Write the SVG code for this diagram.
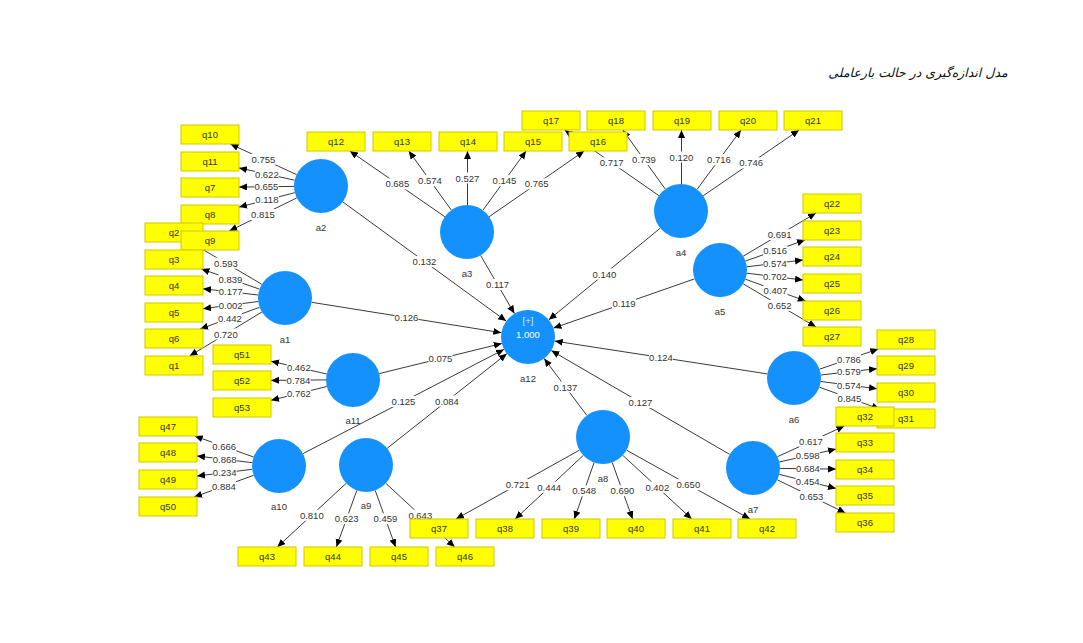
<svg xmlns="http://www.w3.org/2000/svg" width="1083" height="643" viewBox="0 0 1083 643">
<style>
.e{stroke:#3a3a3a;stroke-width:1;fill:none;marker-end:url(#ah)}
.lb{fill:#fff}
.lt{font-family:"Liberation Sans",Arial,sans-serif;font-size:9.5px;fill:#333;text-anchor:middle}
.lv{fill:#1591fd}
.nl{font-family:"Liberation Sans",Arial,sans-serif;font-size:9.5px;fill:#333;text-anchor:middle}
.bx{fill:#ffff00;stroke:#cfc800;stroke-width:1}
.bt{font-family:"Liberation Sans",Arial,sans-serif;font-size:9.5px;fill:#333;text-anchor:middle}
</style>
<defs>
<marker id="ah" markerUnits="userSpaceOnUse" markerWidth="9" markerHeight="8" refX="8" refY="3.5" orient="auto">
<path d="M0,0 L8,3.5 L0,7 z" fill="#000"/>
</marker>
</defs>
<rect width="1083" height="643" fill="#fff"/>
<text x="918" y="77" font-family="DejaVu Sans, sans-serif" font-size="12.5" font-style="italic" fill="#111" text-anchor="middle">مدل اندازه‌گیری در حالت بارعاملی</text>

<g id="connectors">
<!-- a2 -->
<line class="e" x1="296.5" y1="174.6" x2="230.4" y2="144"/>
<line class="e" x1="294.6" y1="180.2" x2="239" y2="167.9"/>
<line class="e" x1="294" y1="186.4" x2="239" y2="187.1"/>
<line class="e" x1="294.8" y1="192.7" x2="239" y2="207.1"/>
<line class="e" x1="296.8" y1="197.9" x2="229.3" y2="231"/>
<!-- a1 -->
<line class="e" x1="261.8" y1="284.3" x2="190.1" y2="242"/>
<line class="e" x1="259.5" y1="289.1" x2="201.4" y2="269"/>
<line class="e" x1="258.2" y1="295" x2="203" y2="288.8"/>
<line class="e" x1="258.2" y1="301.5" x2="203" y2="308.7"/>
<line class="e" x1="259.6" y1="307.3" x2="200.1" y2="329"/>
<line class="e" x1="261.9" y1="312" x2="189.6" y2="356"/>
<!-- a11 -->
<line class="e" x1="326.7" y1="374" x2="271" y2="361.2"/>
<line class="e" x1="326" y1="379.9" x2="271" y2="380.4"/>
<line class="e" x1="326.8" y1="386.5" x2="271" y2="400.3"/>
<!-- a3 -->
<line class="e" x1="444.8" y1="216.7" x2="349.8" y2="151"/>
<line class="e" x1="451.3" y1="210.1" x2="408.8" y2="151"/>
<line class="e" x1="467.5" y1="205" x2="467.5" y2="151"/>
<line class="e" x1="482.9" y1="210.2" x2="526.1" y2="151"/>
<line class="e" x1="489.2" y1="216.7" x2="584.2" y2="151"/>
<!-- a4 -->
<line class="e" x1="658.8" y1="195.6" x2="564.6" y2="130"/>
<line class="e" x1="665.3" y1="189.1" x2="622.8" y2="130"/>
<line class="e" x1="681.5" y1="184" x2="681.5" y2="130"/>
<line class="e" x1="697.1" y1="189.3" x2="741" y2="130"/>
<line class="e" x1="703.3" y1="195.7" x2="799.1" y2="130"/>
<!-- a5 -->
<line class="e" x1="743.2" y1="256.2" x2="816" y2="213"/>
<line class="e" x1="745.5" y1="261" x2="805" y2="240"/>
<line class="e" x1="746.8" y1="266.8" x2="803" y2="260"/>
<line class="e" x1="746.8" y1="273.2" x2="803" y2="280"/>
<line class="e" x1="745.4" y1="279.2" x2="805.7" y2="301"/>
<line class="e" x1="743.2" y1="283.8" x2="816" y2="327"/>
<!-- a6 -->
<line class="e" x1="819.5" y1="369.2" x2="878.3" y2="349"/>
<line class="e" x1="820.8" y1="375" x2="877" y2="368.7"/>
<line class="e" x1="820.8" y1="381.5" x2="877" y2="388.7"/>
<line class="e" x1="819.4" y1="387.2" x2="879.7" y2="409"/>
<!-- a7 -->
<line class="e" x1="777.5" y1="456.7" x2="844.4" y2="426"/>
<line class="e" x1="779.3" y1="462" x2="836" y2="449.1"/>
<line class="e" x1="780" y1="468.4" x2="836" y2="469.1"/>
<line class="e" x1="779.2" y1="474.4" x2="836" y2="488.4"/>
<line class="e" x1="777.3" y1="479.8" x2="845.5" y2="513"/>
<!-- a8 -->
<line class="e" x1="579.4" y1="450.2" x2="456" y2="519"/>
<line class="e" x1="583.3" y1="455.4" x2="515.2" y2="519"/>
<line class="e" x1="594.1" y1="462.5" x2="574.3" y2="519"/>
<line class="e" x1="612.2" y1="462.4" x2="632.6" y2="519"/>
<line class="e" x1="622.8" y1="455.3" x2="691.7" y2="519"/>
<line class="e" x1="626.6" y1="450.2" x2="750" y2="519"/>
<!-- a9 -->
<line class="e" x1="346.2" y1="483.3" x2="277.3" y2="547"/>
<line class="e" x1="356.8" y1="490.4" x2="336.4" y2="547"/>
<line class="e" x1="375.2" y1="490.4" x2="395.6" y2="547"/>
<line class="e" x1="385.8" y1="483.3" x2="454.7" y2="547"/>
<!-- a10 -->
<line class="e" x1="253.6" y1="457" x2="194.7" y2="436"/>
<line class="e" x1="252.2" y1="462.7" x2="197" y2="456"/>
<line class="e" x1="252.2" y1="469.3" x2="197" y2="476"/>
<line class="e" x1="253.6" y1="475.3" x2="194.1" y2="497"/>
<!-- structural -->
<line class="e" x1="342.8" y1="201.9" x2="506.2" y2="321.1"/>
<line class="e" x1="480.6" y1="255.4" x2="514.4" y2="313.6"/>
<line class="e" x1="311.7" y1="302.3" x2="501.3" y2="332.7"/>
<line class="e" x1="379.2" y1="373.6" x2="501.8" y2="343.5"/>
<line class="e" x1="303" y1="453.6" x2="504" y2="349.4"/>
<line class="e" x1="387.2" y1="448.3" x2="506.8" y2="353.7"/>
<line class="e" x1="586.8" y1="415.4" x2="544.2" y2="358.6"/>
<line class="e" x1="729.7" y1="454.4" x2="551.3" y2="350.6"/>
<line class="e" x1="767.3" y1="373.9" x2="554.7" y2="341.1"/>
<line class="e" x1="694.5" y1="278.9" x2="553.5" y2="328.1"/>
<line class="e" x1="660.2" y1="228.2" x2="548.8" y2="319.8"/>

<g id="labels">
<rect class="lb" x="251.5" y="153.8" width="24" height="11"/><text class="lt" x="263.5" y="162.8">0.755</text>
<rect class="lb" x="254.8" y="168.5" width="24" height="11"/><text class="lt" x="266.8" y="177.5">0.622</text>
<rect class="lb" x="254.5" y="181.2" width="24" height="11"/><text class="lt" x="266.5" y="190.2">0.655</text>
<rect class="lb" x="254.9" y="194.4" width="24" height="11"/><text class="lt" x="266.9" y="203.4">0.118</text>
<rect class="lb" x="251" y="209" width="24" height="11"/><text class="lt" x="263" y="218">0.815</text>

<rect class="lb" x="214" y="257.7" width="24" height="11"/><text class="lt" x="226" y="266.7">0.593</text>
<rect class="lb" x="218.4" y="273.5" width="24" height="11"/><text class="lt" x="230.4" y="282.5">0.839</text>
<rect class="lb" x="218.6" y="286.4" width="24" height="11"/><text class="lt" x="230.6" y="295.4">0.177</text>
<rect class="lb" x="218.6" y="299.6" width="24" height="11"/><text class="lt" x="230.6" y="308.6">0.002</text>
<rect class="lb" x="217.9" y="312.6" width="24" height="11"/><text class="lt" x="229.9" y="321.6">0.442</text>
<rect class="lb" x="213.8" y="328.5" width="24" height="11"/><text class="lt" x="225.8" y="337.5">0.720</text>

<rect class="lb" x="286.8" y="362.1" width="24" height="11"/><text class="lt" x="298.8" y="371.1">0.462</text>
<rect class="lb" x="286.5" y="374.6" width="24" height="11"/><text class="lt" x="298.5" y="383.6">0.784</text>
<rect class="lb" x="286.9" y="387.9" width="24" height="11"/><text class="lt" x="298.9" y="396.9">0.762</text>

<rect class="lb" x="385.3" y="178.4" width="24" height="11"/><text class="lt" x="397.3" y="187.4">0.685</text>
<rect class="lb" x="418" y="175.1" width="24" height="11"/><text class="lt" x="430" y="184.1">0.574</text>
<rect class="lb" x="455.5" y="172.5" width="24" height="11"/><text class="lt" x="467.5" y="181.5">0.527</text>
<rect class="lb" x="492.5" y="175.1" width="24" height="11"/><text class="lt" x="504.5" y="184.1">0.145</text>
<rect class="lb" x="524.7" y="178.4" width="24" height="11"/><text class="lt" x="536.7" y="187.4">0.765</text>

<rect class="lb" x="599.7" y="157.3" width="24" height="11"/><text class="lt" x="611.7" y="166.3">0.717</text>
<rect class="lb" x="632" y="154.1" width="24" height="11"/><text class="lt" x="644" y="163.1">0.739</text>
<rect class="lb" x="669.5" y="151.5" width="24" height="11"/><text class="lt" x="681.5" y="160.5">0.120</text>
<rect class="lb" x="707" y="154.2" width="24" height="11"/><text class="lt" x="719" y="163.2">0.716</text>
<rect class="lb" x="739.2" y="157.4" width="24" height="11"/><text class="lt" x="751.2" y="166.4">0.746</text>

<rect class="lb" x="767.6" y="229.1" width="24" height="11"/><text class="lt" x="779.6" y="238.1">0.691</text>
<rect class="lb" x="763.2" y="245" width="24" height="11"/><text class="lt" x="775.2" y="254">0.516</text>
<rect class="lb" x="762.9" y="257.9" width="24" height="11"/><text class="lt" x="774.9" y="266.9">0.574</text>
<rect class="lb" x="762.9" y="271.1" width="24" height="11"/><text class="lt" x="774.9" y="280.1">0.702</text>
<rect class="lb" x="763.5" y="284.6" width="24" height="11"/><text class="lt" x="775.5" y="293.6">0.407</text>
<rect class="lb" x="767.6" y="299.9" width="24" height="11"/><text class="lt" x="779.6" y="308.9">0.652</text>

<rect class="lb" x="836.9" y="353.6" width="24" height="11"/><text class="lt" x="848.9" y="362.6">0.786</text>
<rect class="lb" x="836.9" y="366.4" width="24" height="11"/><text class="lt" x="848.9" y="375.4">0.579</text>
<rect class="lb" x="836.9" y="379.6" width="24" height="11"/><text class="lt" x="848.9" y="388.6">0.574</text>
<rect class="lb" x="837.5" y="392.6" width="24" height="11"/><text class="lt" x="849.5" y="401.6">0.845</text>

<rect class="lb" x="799" y="435.9" width="24" height="11"/><text class="lt" x="811" y="444.9">0.617</text>
<rect class="lb" x="795.7" y="450.1" width="24" height="11"/><text class="lt" x="807.7" y="459.1">0.598</text>
<rect class="lb" x="796" y="463.2" width="24" height="11"/><text class="lt" x="808" y="472.2">0.684</text>
<rect class="lb" x="795.6" y="475.9" width="24" height="11"/><text class="lt" x="807.6" y="484.9">0.454</text>
<rect class="lb" x="799.4" y="490.9" width="24" height="11"/><text class="lt" x="811.4" y="499.9">0.653</text>

<rect class="lb" x="505.7" y="479.1" width="24" height="11"/><text class="lt" x="517.7" y="488.1">0.721</text>
<rect class="lb" x="537.2" y="481.7" width="24" height="11"/><text class="lt" x="549.2" y="490.7">0.444</text>
<rect class="lb" x="572.2" y="485.3" width="24" height="11"/><text class="lt" x="584.2" y="494.3">0.548</text>
<rect class="lb" x="610.4" y="485.2" width="24" height="11"/><text class="lt" x="622.4" y="494.2">0.690</text>
<rect class="lb" x="645.3" y="481.7" width="24" height="11"/><text class="lt" x="657.3" y="490.7">0.402</text>
<rect class="lb" x="676.3" y="479.1" width="24" height="11"/><text class="lt" x="688.3" y="488.1">0.650</text>

<rect class="lb" x="299.8" y="509.7" width="24" height="11"/><text class="lt" x="311.8" y="518.7">0.810</text>
<rect class="lb" x="334.6" y="513.2" width="24" height="11"/><text class="lt" x="346.6" y="522.2">0.623</text>
<rect class="lb" x="373.4" y="513.2" width="24" height="11"/><text class="lt" x="385.4" y="522.2">0.459</text>
<rect class="lb" x="408.3" y="509.7" width="24" height="11"/><text class="lt" x="420.3" y="518.7">0.643</text>

<rect class="lb" x="212.2" y="441" width="24" height="11"/><text class="lt" x="224.2" y="450">0.666</text>
<rect class="lb" x="212.6" y="453.9" width="24" height="11"/><text class="lt" x="224.6" y="462.9">0.868</text>
<rect class="lb" x="212.6" y="467.2" width="24" height="11"/><text class="lt" x="224.6" y="476.2">0.234</text>
<rect class="lb" x="211.9" y="480.7" width="24" height="11"/><text class="lt" x="223.9" y="489.7">0.884</text>

<rect class="lb" x="412.5" y="256" width="24" height="11"/><text class="lt" x="424.5" y="265">0.132</text>
<rect class="lb" x="485.5" y="279" width="24" height="11"/><text class="lt" x="497.5" y="288">0.117</text>
<rect class="lb" x="394.5" y="312" width="24" height="11"/><text class="lt" x="406.5" y="321">0.126</text>
<rect class="lb" x="428.5" y="353" width="24" height="11"/><text class="lt" x="440.5" y="362">0.075</text>
<rect class="lb" x="391.5" y="396" width="24" height="11"/><text class="lt" x="403.5" y="405">0.125</text>
<rect class="lb" x="435" y="395.5" width="24" height="11"/><text class="lt" x="447" y="404.5">0.084</text>
<rect class="lb" x="553.5" y="381.5" width="24" height="11"/><text class="lt" x="565.5" y="390.5">0.137</text>
<rect class="lb" x="628.5" y="397" width="24" height="11"/><text class="lt" x="640.5" y="406">0.127</text>
<rect class="lb" x="649" y="352" width="24" height="11"/><text class="lt" x="661" y="361">0.124</text>
<rect class="lb" x="612" y="298" width="24" height="11"/><text class="lt" x="624" y="307">0.119</text>
<rect class="lb" x="592.5" y="268.5" width="24" height="11"/><text class="lt" x="604.5" y="277.5">0.140</text>
</g>
</g>

<!-- latent variables -->
<g id="a1"><circle class="lv" cx="285" cy="298" r="27"/><text class="nl" x="285" y="343">a1</text></g>
<g id="a2"><circle class="lv" cx="321" cy="186" r="27"/><text class="nl" x="321" y="231">a2</text></g>
<g id="a3"><circle class="lv" cx="467" cy="232" r="27"/><text class="nl" x="467" y="277">a3</text></g>
<g id="a4"><circle class="lv" cx="681" cy="211" r="27"/><text class="nl" x="681" y="256">a4</text></g>
<g id="a5"><circle class="lv" cx="720" cy="270" r="27"/><text class="nl" x="720" y="315">a5</text></g>
<g id="a6"><circle class="lv" cx="794" cy="378" r="27"/><text class="nl" x="794" y="423">a6</text></g>
<g id="a7"><circle class="lv" cx="753" cy="468" r="27"/><text class="nl" x="753" y="513">a7</text></g>
<g id="a8"><circle class="lv" cx="603" cy="437" r="27"/><text class="nl" x="603" y="482">a8</text></g>
<g id="a9"><circle class="lv" cx="366" cy="465" r="27"/><text class="nl" x="366" y="509">a9</text></g>
<g id="a10"><circle class="lv" cx="279" cy="466" r="27"/><text class="nl" x="279" y="510">a10</text></g>
<g id="a11"><circle class="lv" cx="353" cy="380" r="27"/><text class="nl" x="353" y="424">a11</text></g>
<g id="a12"><circle class="lv" cx="528" cy="337" r="27"/>
<text x="528" y="324" font-family="Liberation Sans, Arial, sans-serif" font-size="9.5" fill="#d8ebff" text-anchor="middle">[+]</text>
<text x="528" y="338" font-family="Liberation Sans, Arial, sans-serif" font-size="9.5" fill="#fff" text-anchor="middle">1.000</text>
<text class="nl" x="528" y="382">a12</text></g>

<!-- indicators -->
<g id="q10"><rect class="bx" x="181" y="125" width="58" height="19"/><text class="bt" x="210" y="138">q10</text></g>
<g id="q11"><rect class="bx" x="181" y="152" width="58" height="19"/><text class="bt" x="210" y="165">q11</text></g>
<g id="q7"><rect class="bx" x="181" y="178" width="58" height="19"/><text class="bt" x="210" y="191">q7</text></g>
<g id="q8"><rect class="bx" x="181" y="205" width="58" height="19"/><text class="bt" x="210" y="218">q8</text></g>
<g id="q2"><rect class="bx" x="145" y="223" width="58" height="19"/><text class="bt" x="174" y="236">q2</text></g>
<g id="q9"><rect class="bx" x="181" y="231" width="58" height="19"/><text class="bt" x="210" y="244">q9</text></g>
<g id="q3"><rect class="bx" x="145" y="250" width="58" height="19"/><text class="bt" x="174" y="263">q3</text></g>
<g id="q4"><rect class="bx" x="145" y="276" width="58" height="19"/><text class="bt" x="174" y="289">q4</text></g>
<g id="q5"><rect class="bx" x="145" y="303" width="58" height="19"/><text class="bt" x="174" y="316">q5</text></g>
<g id="q6"><rect class="bx" x="145" y="329" width="58" height="19"/><text class="bt" x="174" y="342">q6</text></g>
<g id="q1"><rect class="bx" x="145" y="356" width="58" height="19"/><text class="bt" x="174" y="369">q1</text></g>
<g id="q51"><rect class="bx" x="213" y="345" width="58" height="19"/><text class="bt" x="242" y="358">q51</text></g>
<g id="q52"><rect class="bx" x="213" y="371" width="58" height="19"/><text class="bt" x="242" y="384">q52</text></g>
<g id="q53"><rect class="bx" x="213" y="398" width="58" height="19"/><text class="bt" x="242" y="411">q53</text></g>
<g id="q12"><rect class="bx" x="307" y="132" width="58" height="19"/><text class="bt" x="336" y="145">q12</text></g>
<g id="q13"><rect class="bx" x="373" y="132" width="58" height="19"/><text class="bt" x="402" y="145">q13</text></g>
<g id="q14"><rect class="bx" x="439" y="132" width="58" height="19"/><text class="bt" x="468" y="145">q14</text></g>
<g id="q15"><rect class="bx" x="504" y="132" width="58" height="19"/><text class="bt" x="533" y="145">q15</text></g>
<g id="q17"><rect class="bx" x="522" y="111" width="58" height="19"/><text class="bt" x="551" y="124">q17</text></g>
<g id="q16"><rect class="bx" x="569" y="132" width="58" height="19"/><text class="bt" x="598" y="145">q16</text></g>
<g id="q18"><rect class="bx" x="587" y="111" width="58" height="19"/><text class="bt" x="616" y="124">q18</text></g>
<g id="q19"><rect class="bx" x="653" y="111" width="58" height="19"/><text class="bt" x="682" y="124">q19</text></g>
<g id="q20"><rect class="bx" x="719" y="111" width="58" height="19"/><text class="bt" x="748" y="124">q20</text></g>
<g id="q21"><rect class="bx" x="784" y="111" width="58" height="19"/><text class="bt" x="813" y="124">q21</text></g>
<g id="q22"><rect class="bx" x="803" y="194" width="58" height="19"/><text class="bt" x="832" y="207">q22</text></g>
<g id="q23"><rect class="bx" x="803" y="221" width="58" height="19"/><text class="bt" x="832" y="234">q23</text></g>
<g id="q24"><rect class="bx" x="803" y="247" width="58" height="19"/><text class="bt" x="832" y="260">q24</text></g>
<g id="q25"><rect class="bx" x="803" y="274" width="58" height="19"/><text class="bt" x="832" y="287">q25</text></g>
<g id="q26"><rect class="bx" x="803" y="301" width="58" height="19"/><text class="bt" x="832" y="314">q26</text></g>
<g id="q27"><rect class="bx" x="803" y="327" width="58" height="19"/><text class="bt" x="832" y="340">q27</text></g>
<g id="q28"><rect class="bx" x="877" y="330" width="58" height="19"/><text class="bt" x="906" y="343">q28</text></g>
<g id="q29"><rect class="bx" x="877" y="356" width="58" height="19"/><text class="bt" x="906" y="369">q29</text></g>
<g id="q30"><rect class="bx" x="877" y="383" width="58" height="19"/><text class="bt" x="906" y="396">q30</text></g>
<g id="q31"><rect class="bx" x="877" y="409" width="58" height="19"/><text class="bt" x="906" y="422">q31</text></g>
<g id="q32"><rect class="bx" x="836" y="407" width="58" height="19"/><text class="bt" x="865" y="420">q32</text></g>
<g id="q33"><rect class="bx" x="836" y="433" width="58" height="19"/><text class="bt" x="865" y="446">q33</text></g>
<g id="q34"><rect class="bx" x="836" y="460" width="58" height="19"/><text class="bt" x="865" y="473">q34</text></g>
<g id="q35"><rect class="bx" x="836" y="486" width="58" height="19"/><text class="bt" x="865" y="499">q35</text></g>
<g id="q36"><rect class="bx" x="836" y="513" width="58" height="19"/><text class="bt" x="865" y="526">q36</text></g>
<g id="q37"><rect class="bx" x="410" y="519" width="58" height="19"/><text class="bt" x="439" y="532">q37</text></g>
<g id="q38"><rect class="bx" x="476" y="519" width="58" height="19"/><text class="bt" x="505" y="532">q38</text></g>
<g id="q39"><rect class="bx" x="542" y="519" width="58" height="19"/><text class="bt" x="571" y="532">q39</text></g>
<g id="q40"><rect class="bx" x="607" y="519" width="58" height="19"/><text class="bt" x="636" y="532">q40</text></g>
<g id="q41"><rect class="bx" x="673" y="519" width="58" height="19"/><text class="bt" x="702" y="532">q41</text></g>
<g id="q42"><rect class="bx" x="738" y="519" width="58" height="19"/><text class="bt" x="767" y="532">q42</text></g>
<g id="q43"><rect class="bx" x="238" y="547" width="58" height="19"/><text class="bt" x="267" y="560">q43</text></g>
<g id="q44"><rect class="bx" x="304" y="547" width="58" height="19"/><text class="bt" x="333" y="560">q44</text></g>
<g id="q45"><rect class="bx" x="370" y="547" width="58" height="19"/><text class="bt" x="399" y="560">q45</text></g>
<g id="q46"><rect class="bx" x="436" y="547" width="58" height="19"/><text class="bt" x="465" y="560">q46</text></g>
<g id="q47"><rect class="bx" x="139" y="417" width="58" height="19"/><text class="bt" x="168" y="430">q47</text></g>
<g id="q48"><rect class="bx" x="139" y="443" width="58" height="19"/><text class="bt" x="168" y="456">q48</text></g>
<g id="q49"><rect class="bx" x="139" y="470" width="58" height="19"/><text class="bt" x="168" y="483">q49</text></g>
<g id="q50"><rect class="bx" x="139" y="497" width="58" height="19"/><text class="bt" x="168" y="510">q50</text></g>
</svg>
